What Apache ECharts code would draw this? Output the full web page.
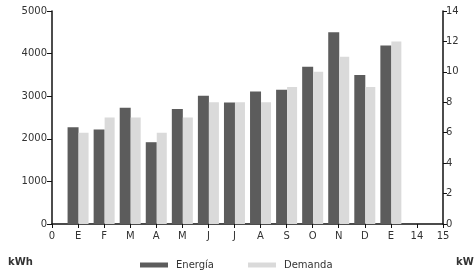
<!DOCTYPE html>
<html>
<head>
<meta charset="utf-8">
<script src="https://cdn.jsdelivr.net/npm/echarts@6/dist/echarts.min.js"></script>
<style>
  html, body { margin: 0; padding: 0; background: #fff; }
  #chart { width: 474px; height: 276px; }
</style>
</head>
<body>
<div id="chart"></div>
<script>
// tick labels along the bottom axis
var xLabels = ['0', 'E', 'F', 'M', 'A', 'M', 'J', 'J', 'A', 'S', 'O', 'N', 'D', 'E', '14', '15'];
// energia in kWh (left axis)
var energia = [null, 2270, 2220, 2730, 1920, 2700, 3010, 2850, 3110, 3150, 3690, 4500, 3500, 4190, null, null];
// demanda in kW (right axis)
var demanda = [null, 6, 7, 7, 6, 7, 8, 8, 8, 9, 10, 11, 9, 12, null, null];

var dom = document.getElementById('chart');
var myChart = echarts.init(dom, null, { renderer: 'canvas' });

var labelFont = {
    fontFamily: 'DejaVu Sans',
    fontSize: 10,
    color: '#333'
};

var option = {
    animation: false,
    backgroundColor: '#fff',
    grid: { left: 52, right: 31, top: 11, bottom: 52 },
    legend: [{
        data: ['Energía'],
        left: 135,
        top: 255,
        itemWidth: 28,
        itemHeight: 5,
        itemGap: 0,
        icon: 'rect',
        textStyle: { fontFamily: 'DejaVu Sans', fontSize: 10, color: '#333', padding: [0, 0, 0, 3] }
    }, {
        data: ['Demanda'],
        left: 243,
        top: 255,
        itemWidth: 28,
        itemHeight: 5,
        itemGap: 0,
        icon: 'rect',
        textStyle: { fontFamily: 'DejaVu Sans', fontSize: 10, color: '#333', padding: [0, 0, 0, 3] }
    }],
    graphic: [{
        type: 'text',
        left: 8,
        top: 257,
        style: { text: 'kWh', fontFamily: 'DejaVu Sans', fontSize: 10, fontWeight: 'bold', fill: '#333' }
    }, {
        type: 'text',
        left: 456,
        top: 257,
        style: { text: 'kW', fontFamily: 'DejaVu Sans', fontSize: 10, fontWeight: 'bold', fill: '#333' }
    }],
    xAxis: {
        type: 'category',
        data: xLabels,
        boundaryGap: false,
        axisLine: { lineStyle: { color: '#111', width: 1.5 } },
        axisTick: { show: true, length: 4, lineStyle: { color: '#111' }, alignWithLabel: true },
        axisLabel: Object.assign({ margin: 7, interval: 0 }, labelFont),
        splitLine: { show: false }
    },
    yAxis: [{
        type: 'value',
        min: 0,
        max: 5000,
        interval: 1000,
        axisLine: { show: true, lineStyle: { color: '#111', width: 1.5 } },
        axisTick: { show: true, length: 5, lineStyle: { color: '#111' } },
        axisLabel: Object.assign({ margin: 5, formatter: function (v) { return String(v); } }, labelFont),
        splitLine: { show: false }
    }, {
        type: 'value',
        min: 0,
        max: 14,
        interval: 2,
        position: 'right',
        axisLine: { show: true, lineStyle: { color: '#111', width: 1.5 } },
        axisTick: { show: true, length: 4, lineStyle: { color: '#111' } },
        axisLabel: Object.assign({ margin: 3 }, labelFont),
        splitLine: { show: false }
    }],
    series: [{
        name: 'Energía',
        type: 'bar',
        data: energia,
        yAxisIndex: 0,
        barWidth: 11,
        barGap: '0%',
        itemStyle: { color: '#5c5c5c' }
    }, {
        name: 'Demanda',
        type: 'bar',
        data: demanda,
        yAxisIndex: 1,
        barWidth: 10,
        barGap: '0%',
        itemStyle: { color: '#dadada' }
    }]
};

if (option && typeof option === 'object') {
    myChart.setOption(option);
}
window.addEventListener('resize', myChart.resize);
</script>
</body>
</html>
